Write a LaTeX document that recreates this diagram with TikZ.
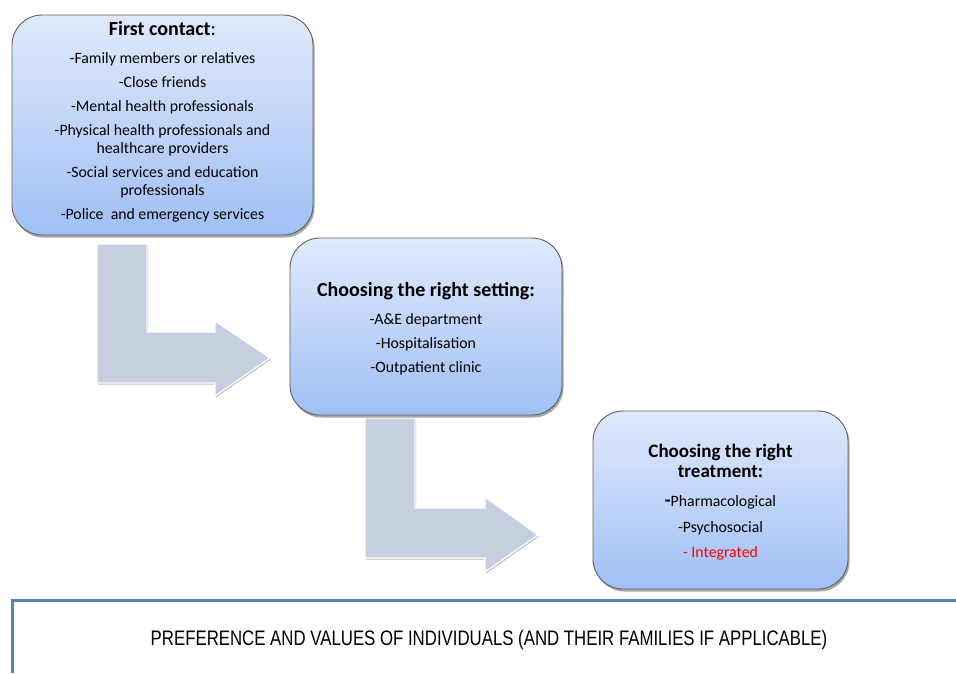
\documentclass[tikz,border=0pt]{standalone}
\usepackage{fontspec}
\setmainfont{Carlito}
\newfontfamily\narrowfont[FakeStretch=0.8]{Liberation Sans}
\usetikzlibrary{shadows}

\definecolor{boxtop}{RGB}{224,233,252}
\definecolor{boxbottom}{RGB}{160,192,245}
\definecolor{boxline}{RGB}{95,95,95}
\definecolor{arrowgrey}{RGB}{197,207,224}
\definecolor{valueline}{RGB}{84,130,192}

\tikzset{
  stagebox/.style={draw=boxline, line width=0.9pt, rounded corners=30pt,
    top color=boxtop, bottom color=boxbottom, align=center, inner sep=0pt,
    drop shadow={shadow xshift=1.5pt, shadow yshift=-2.5pt, opacity=0.35, fill=black}},
  bentarrow/.style={fill=arrowgrey, draw=white, line width=1.2pt,
    drop shadow={shadow xshift=1pt, shadow yshift=-1.5pt, opacity=0.25, fill=black}},
  valuebar/.style={draw=valueline, line width=3pt}
}
\providecommand{\itemgap}{\\[6pt]}

\begin{document}
\begin{tikzpicture}[x=1pt,y=-1pt]
    \providecommand{\titlefont}{\fontsize{20}{22}\selectfont\bfseries}
    \providecommand{\treatfont}{\fontsize{19}{20}\selectfont\bfseries}
    \providecommand{\bodyfont}{\fontsize{15.8}{18}\selectfont}
    \useasboundingbox (0,0) rectangle (956,673);
    % bent arrows between the stages
    \draw[bentarrow] (97,244) -- (147,244) -- (147,332) -- (215,332) -- (215,321)
        -- (270,358) -- (215,396) -- (215,383) -- (97,383) -- cycle;
    \draw[bentarrow] (365,418) -- (415,418) -- (415,508) -- (485,508) -- (485,497)
        -- (538,535) -- (485,572) -- (485,558) -- (365,558) -- cycle;
    % stages
    \node[stagebox, minimum width=301pt, minimum height=220pt, font=\bodyfont] (contact) at (162.5,125)
    {{\titlefont First contact}{\fontsize{20}{22}\selectfont:}\\[10pt]
     -Family members or relatives\itemgap
     -Close friends\itemgap
     -Mental health professionals\itemgap
     -Physical health professionals and\\
     healthcare providers\itemgap
     -Social services and education\\
     professionals\itemgap
     -Police\ \ and emergency services\rule[-10pt]{0pt}{0pt}};
    \node[stagebox, minimum width=272pt, minimum height=177pt, font=\bodyfont] (setting) at (426,326.5)
    {{\titlefont\rule{0pt}{18pt}Choosing the right setting:}\\[10pt]
     -A\&E department\itemgap
     -Hospitalisation\itemgap
     -Outpatient clinic};
    \node[stagebox, minimum width=255pt, minimum height=178pt, font=\bodyfont] (treatment) at (720.5,500)
    {{\treatfont\rule{0pt}{17.5pt}Choosing the right}\\[2pt]
     {\treatfont treatment:}\\[11pt]
     {\treatfont -}Pharmacological\\[8pt]
     -Psychosocial\\[7pt]
     \textcolor{red}{- Integrated}};
    % preferences underlying all stages
    \coordinate (valuecorner) at (12,600);
    \draw[valuebar] (12,673) -- (valuecorner) -- (956,600);
    \node[font=\narrowfont\fontsize{21}{24}\selectfont] (values) at (489,640)
        {PREFERENCE AND VALUES OF INDIVIDUALS (AND THEIR FAMILIES IF APPLICABLE)};
\end{tikzpicture}
\end{document}
